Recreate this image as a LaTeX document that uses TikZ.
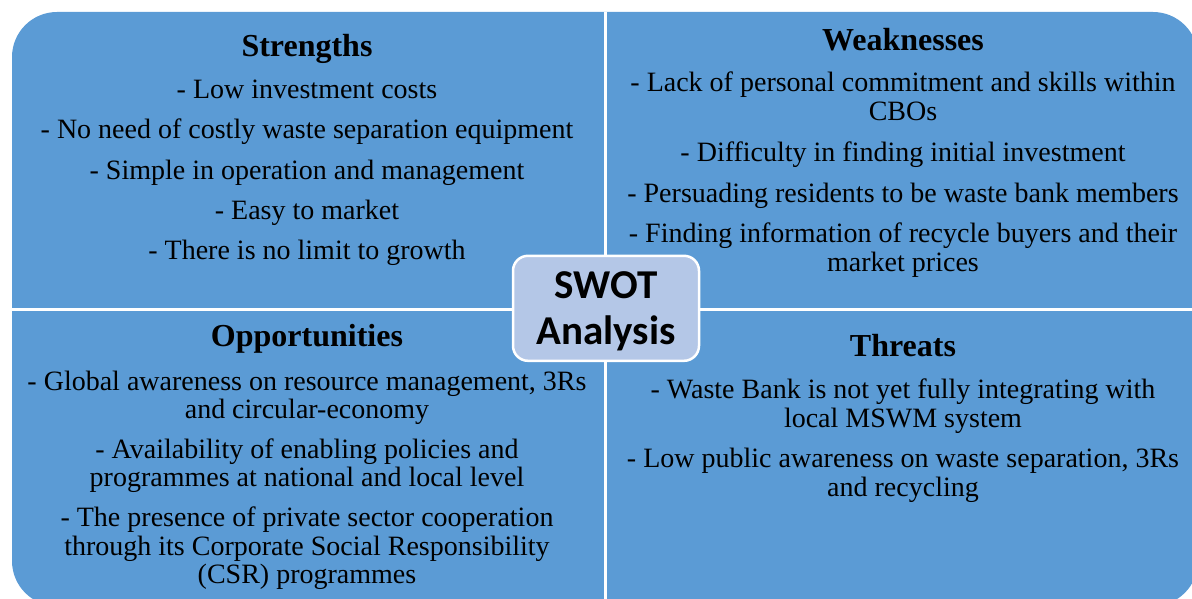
\documentclass[tikz,border=0pt]{standalone}
\usepackage{fontspec}
\setmainfont{Liberation Serif}
\newfontfamily\hubfont{Carlito}
\definecolor{quadblue}{HTML}{5B9BD5}
\definecolor{hubblue}{HTML}{B4C7E7}

\begin{document}
\begin{tikzpicture}[x=1pt,y=-1pt,
  head/.style={anchor=base, inner sep=0pt, font=\fontsize{32}{35}\selectfont\bfseries},
  % multi-line items are placed by the baseline of their last line
  item/.style={anchor=base, inner sep=0pt, align=center, font=\fontsize{28}{28.5}\selectfont},
  gap/.style={draw=white, line width=3pt},
  hub/.style={draw=white, line width=2.5pt, fill=hubblue, rounded corners=15pt,
    minimum width=186pt, minimum height=105pt, inner sep=0pt, align=center,
    font=\hubfont\bfseries\fontsize{41}{46}\selectfont}]
\useasboundingbox (0,0) rectangle (1192,599);

% four quadrants: one rounded panel split by white gaps
\fill[quadblue, rounded corners=45pt] (12,12) rectangle (1198,606);
\draw[gap] (605,12) -- (605,606);
\draw[gap] (12,309.5) -- (1198,309.5);

% Strengths
\node[head] (sh) at (307,57) {Strengths};
\node[item] (s1) at (307,99)  {- Low investment costs};
\node[item] (s2) at (307,139) {- No need of costly waste separation equipment};
\node[item] (s3) at (307,179) {- Simple in operation and management};
\node[item] (s4) at (307,219) {- Easy to market};
\node[item] (s5) at (307,259) {- There is no limit to growth};

% Weaknesses
\node[head] (wh) at (903,51) {Weaknesses};
\node[item] (w1) at (903,120.5) {- Lack of personal commitment and skills within\\CBOs};
\node[item] (w2) at (903,162) {- Difficulty in finding initial investment};
\node[item] (w3) at (903,202) {- Persuading residents to be waste bank members};
\node[item] (w4) at (903,271) {- Finding information of recycle buyers and their\\market prices};

% Opportunities
\node[head] (oh) at (307,346) {Opportunities};
\node[item] (o1) at (307,418.5) {- Global awareness on resource management, 3Rs\\and circular-economy};
\node[item] (o2) at (307,486.5) {- Availability of enabling policies and\\programmes at national and local level};
\node[item] (o3) at (307,583.5) {- The presence of private sector cooperation\\through its Corporate Social Responsibility\\(CSR) programmes};

% Threats
\node[head] (th) at (903,356) {Threats};
\node[item] (t1) at (903,427) {- Waste Bank is not yet fully integrating with\\local MSWM system};
\node[item] (t2) at (903,496) {- Low public awareness on waste separation, 3Rs\\and recycling};

% centre label (the strut lowers the two lines a little inside the box)
\node[hub] (swot) at (606,308.3) {\rule{0pt}{33pt}SWOT\\Analysis};
\end{tikzpicture}
\end{document}
